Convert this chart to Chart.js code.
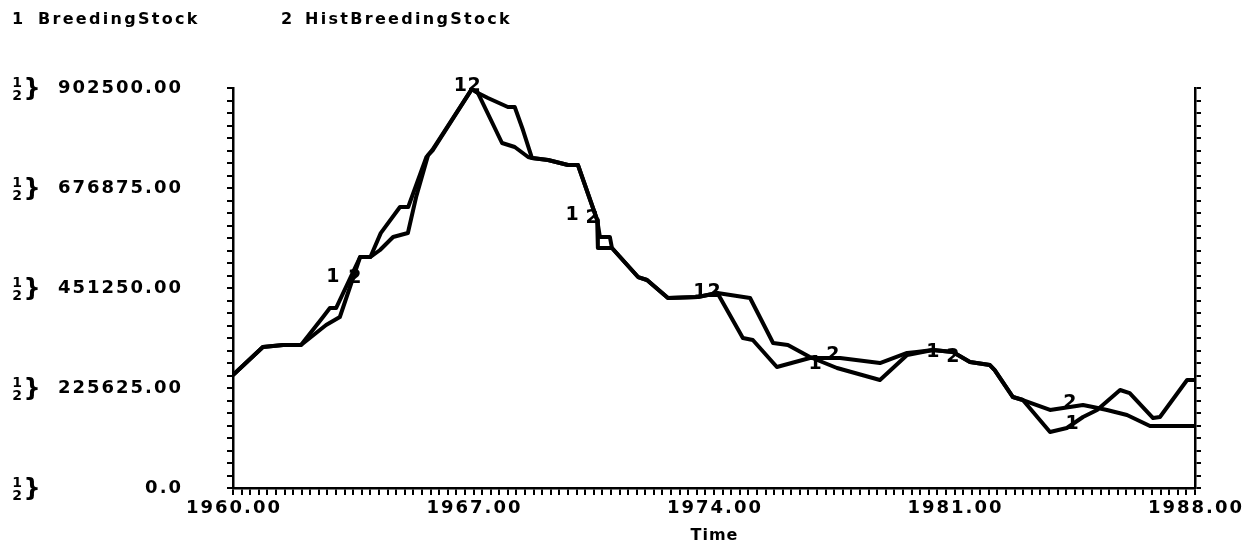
<!DOCTYPE html>
<html>
<head>
<meta charset="utf-8">
<script src="https://cdn.jsdelivr.net/npm/chart.js@4.4.1/dist/chart.umd.min.js"></script>
<style>
  html, body { margin: 0; padding: 0; background: #fff; }
  #wrap { width: 1256px; height: 549px; position: relative; }
</style>
</head>
<body>
<div id="wrap"><canvas id="stock"></canvas></div>
<script>
// ── DATA ──────────────────────────────────────────────────────────────────

const seriesNames = ['BreedingStock', 'HistBreedingStock'];

// 1: BreedingStock (model)
const years1 = [1960.0, 1960.87, 1961.46, 1961.98, 1962.71, 1963.11, 1963.7, 1964.0, 1964.28, 1964.66,
  1965.09, 1965.33, 1965.68, 1965.82, 1966.95, 1967.13, 1967.42, 1968.0, 1968.2, 1968.44,
  1968.7, 1969.17, 1969.75, 1970.04, 1970.6, 1970.68, 1970.97, 1971.03, 1971.79, 1972.05,
  1972.66, 1973.53, 1974.1, 1975.05, 1975.72, 1976.15, 1976.79, 1977.58, 1978.83, 1979.62,
  1980.37, 1980.95, 1981.45, 1982.03, 1982.17, 1982.7, 1982.99, 1983.78, 1984.27, 1984.74,
  1985.15, 1985.82, 1986.1, 1986.78, 1986.98, 1987.77, 1988.0];
const stock1 = [255000, 318000, 322600, 322600, 367800, 385800, 521200, 521200, 537000, 566300,
  575300, 656600, 751300, 762600, 900000, 891200, 880000, 859600, 859600, 807700,
  744600, 740000, 728800, 728800, 604700, 566300, 566300, 541500, 476000, 469300,
  428700, 431000, 440000, 428700, 327200, 322600, 295600, 270700, 243700, 300100,
  311400, 306900, 284300, 277500, 266000, 205300, 198500, 126400, 135400, 160200,
  176000, 221100, 214000, 157900, 160200, 243700, 243700];

// 2: HistBreedingStock (historical)
const years2 = [1960.0, 1960.87, 1961.46, 1961.98, 1962.62, 1962.82, 1963.0, 1963.7, 1964.0, 1964.3,
  1964.86, 1965.1, 1965.63, 1965.8, 1966.95, 1967.13, 1967.83, 1968.2, 1968.59, 1968.7,
  1969.17, 1969.75, 1970.04, 1970.6, 1970.62, 1971.03, 1971.79, 1972.05, 1972.66, 1973.53,
  1974.1, 1974.84, 1975.13, 1975.83, 1976.79, 1977.67, 1978.83, 1979.62, 1979.9, 1980.37,
  1980.95, 1981.45, 1982.03, 1982.17, 1982.7, 1982.99, 1983.78, 1984.74, 1985.03, 1985.44,
  1986.02, 1986.69, 1987.85, 1988.0];
const stock2 = [255000, 318000, 322600, 322600, 385800, 406000, 406000, 521200, 521200, 575000,
  634000, 634000, 747000, 762600, 900000, 891200, 778400, 769400, 746800, 744600,
  740000, 728800, 728800, 604700, 541500, 541500, 476000, 469300, 428700, 431000,
  440000, 338400, 334000, 273000, 293300, 293300, 282000, 304600, 306900, 311400,
  306900, 284300, 277500, 266000, 205300, 198500, 176000, 187300, 182800, 176000,
  164700, 139900, 139900, 139900];

// axis ticks
const xMajor       = [1960, 1967, 1974, 1981, 1988];
const xTickLabels  = ['1960.00', '1967.00', '1974.00', '1981.00', '1988.00'];
const yMajor       = [0, 225625, 451250, 676875, 902500];
const yTickLabels  = ['0.0', '225625.00', '451250.00', '676875.00', '902500.00'];

// curve number labels ("1" / "2" drawn on the lines)
const tagYears1 = [1962.91, 1966.62, 1969.87, 1973.59, 1976.94, 1980.37, 1984.42];
const tagVals1  = [476000, 907000, 616000, 442000, 280000, 307000, 144000];
const tagYears2 = [1963.55, 1967.02, 1970.45, 1974.0, 1977.46, 1980.95, 1984.36];
const tagVals2  = [474000, 907000, 609000, 442000, 300000, 296000, 192000];

// ── HELPERS ───────────────────────────────────────────────────────────────

const FONT = '"DejaVu Sans", Verdana, sans-serif';

// canvas text with manual letter spacing (the original font is very wide)
function spacedText(ctx, str, x, y, gap, align) {
  const chars = [...str];
  const widths = chars.map(ch => ctx.measureText(ch).width);
  const total = widths.reduce((a, b) => a + b, 0) + gap * (chars.length - 1);
  let cx = align === 'right' ? x - total : align === 'center' ? x - total / 2 : x;
  ctx.textAlign = 'left';
  chars.forEach((ch, i) => { ctx.fillText(ch, cx, y); cx += widths[i] + gap; });
}

function stepTicks(min, max, step) {
  const out = [];
  const n = Math.round((max - min) / step);
  for (let i = 0; i <= n; i++) out.push({ value: min + i * step });
  return out;
}

const textPlugin = {
  id: 'stellaText',
  afterDraw(chart) {
    const ctx = chart.ctx;
    const xs = chart.scales.x, ys = chart.scales.y;
    ctx.save();
    ctx.fillStyle = '#000';
    ctx.textBaseline = 'middle';

    // legend
    ctx.font = `bold 16px ${FONT}`;
    spacedText(ctx, '1', 12, 20, 0, 'left');
    spacedText(ctx, seriesNames[0], 38, 20, 2.3, 'left');
    spacedText(ctx, '2', 281, 20, 0, 'left');
    spacedText(ctx, seriesNames[1], 305, 20, 2.3, 'left');

    // y tick labels with the stacked 1/2 brace marker
    yMajor.forEach((v, i) => {
      const py = ys.getPixelForValue(v);
      ctx.font = `bold 18px ${FONT}`;
      spacedText(ctx, yTickLabels[i], 181, py, 2, 'right');
      ctx.font = `bold 14px ${FONT}`;
      spacedText(ctx, '1', 17, py - 5, 0, 'center');
      spacedText(ctx, '2', 17, py + 8, 0, 'center');
      ctx.font = `bold 24px ${FONT}`;
      spacedText(ctx, '}', 32, py + 2, 0, 'center');
    });

    // x tick labels + title
    ctx.font = `bold 18px ${FONT}`;
    xMajor.forEach((v, i) => {
      spacedText(ctx, xTickLabels[i], xs.getPixelForValue(v), 508, 2, 'center');
    });
    ctx.font = `bold 16px ${FONT}`;
    spacedText(ctx, 'Time', (chart.chartArea.left + chart.chartArea.right) / 2, 536, 1, 'center');

    // curve number tags
    ctx.font = `bold 19px ${FONT}`;
    tagYears1.forEach((yr, i) => {
      spacedText(ctx, '1', xs.getPixelForValue(yr), ys.getPixelForValue(tagVals1[i]), 0, 'center');
    });
    tagYears2.forEach((yr, i) => {
      spacedText(ctx, '2', xs.getPixelForValue(yr), ys.getPixelForValue(tagVals2[i]), 0, 'center');
    });
    ctx.restore();
  },
};

// ── CHART ─────────────────────────────────────────────────────────────────

const toPoints = (xsArr, ysArr) => xsArr.map((x, i) => ({ x, y: ysArr[i] }));

const axisGrid = { drawOnChartArea: false, drawTicks: true, tickLength: 6, color: '#000', lineWidth: 2 };
const axisBorder = { display: true, color: '#000', width: 2.5 };

new Chart(document.getElementById('stock'), {
  type: 'line',
  data: {
    datasets: [
      { label: seriesNames[0], data: toPoints(years1, stock1) },
      { label: seriesNames[1], data: toPoints(years2, stock2) },
    ].map(d => ({
      ...d,
      borderColor: '#000',
      borderWidth: 4,
      borderJoinStyle: 'round',
      pointRadius: 0,
      tension: 0,
      fill: false,
      yAxisID: 'y',
    })),
  },
  options: {
    responsive: true,
    maintainAspectRatio: false,
    animation: false,
    layout: { padding: { top: 88, left: 0, right: 0, bottom: 0 } },
    plugins: { legend: { display: false }, tooltip: { enabled: false } },
    scales: {
      x: {
        type: 'linear', min: 1960, max: 1988,
        afterBuildTicks: s => { s.ticks = stepTicks(1960, 1988, 0.25); },
        afterFit: s => { s.height = 61; },
        border: axisBorder,
        grid: { ...axisGrid, tickLength: 7 },
        ticks: { display: false },
      },
      y: {
        type: 'linear', position: 'left', min: 0, max: 902500,
        afterBuildTicks: s => { s.ticks = stepTicks(0, 902500, 902500 / 32); },
        afterFit: s => { s.width = 233; },
        border: axisBorder,
        grid: axisGrid,
        ticks: { display: false },
      },
      y2: {
        type: 'linear', position: 'right', min: 0, max: 902500,
        afterBuildTicks: s => { s.ticks = stepTicks(0, 902500, 902500 / 32); },
        afterFit: s => { s.width = 61; },
        border: axisBorder,
        grid: axisGrid,
        ticks: { display: false },
      },
    },
  },
  plugins: [textPlugin],
});
</script>
</body>
</html>
